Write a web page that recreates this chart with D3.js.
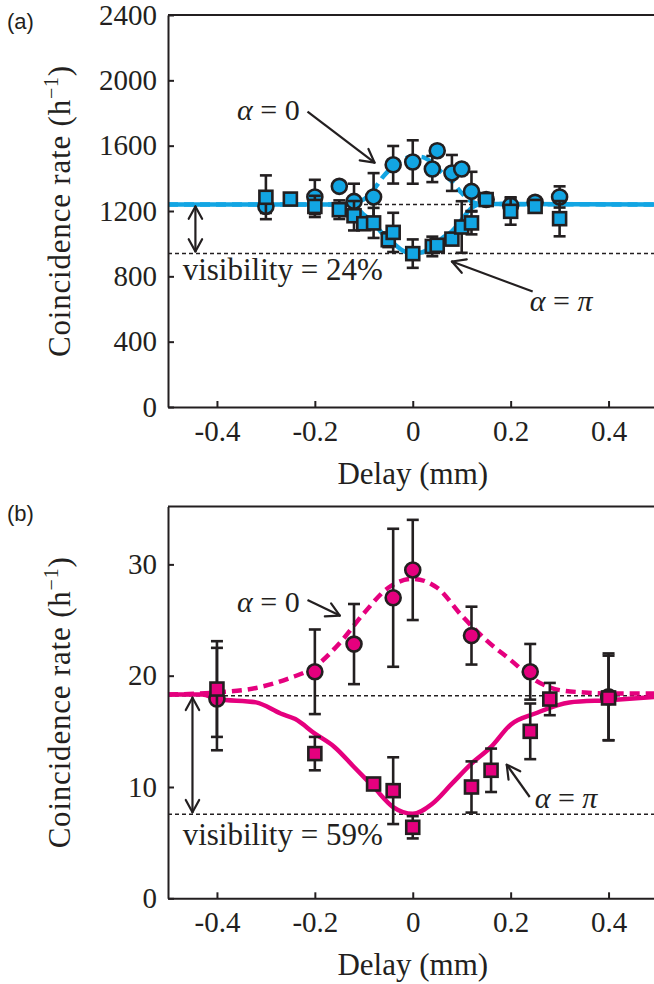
<!DOCTYPE html>
<html>
<head>
<meta charset="utf-8">
<script src="https://cdn.jsdelivr.net/npm/d3@7"></script>
<style>
body { margin: 0; background: #fff; }
</style>
</head>
<body>
<svg id="chart" width="654" height="984"></svg>
<script>
// x axis (shared)
var xTicks = [-0.4, -0.2, 0, 0.2, 0.4],
    xTickLabels = ['-0.4', '-0.2', '0', '0.2', '0.4'];

// panel (a): y ticks, data (delay mm, rate per hour, error)
var yTicksA = [0, 400, 800, 1200, 1600, 2000, 2400],
    yTickLabelsA = ['0', '400', '800', '1200', '1600', '2000', '2400'];
var delayA0 = [-0.3, -0.2, -0.15, -0.12, -0.08, -0.04, 0, 0.04, 0.05, 0.08, 0.1, 0.12, 0.15, 0.2, 0.25, 0.3],
    rateA0 = [1228, 1286, 1351, 1259, 1286, 1483, 1500, 1457, 1569, 1433, 1457, 1320, 1270, 1234, 1253, 1286],
    errA0 = [40, 105, 25, 108, 146, 115, 133, 80, 30, 110, 30, 120, 30, 50, 30, 65];
var delayApi = [-0.3, -0.25, -0.2, -0.15, -0.12, -0.1, -0.08, -0.05, -0.04, 0, 0.04, 0.05, 0.08, 0.1, 0.12, 0.15, 0.2, 0.25, 0.3],
    rateApi = [1284, 1273, 1228, 1208, 1171, 1122, 1127, 1024, 1069, 939, 983, 990, 1028, 1102, 1127, 1270, 1198, 1228, 1153],
    errApi = [134, 25, 65, 57, 90, 35, 92, 45, 120, 87, 60, 35, 35, 158, 70, 30, 82, 35, 108];
var fitDelayA = [-0.5, -0.14, -0.12, -0.1, -0.08, -0.06, -0.04, -0.02, 0, 0.02, 0.04, 0.06, 0.08, 0.1, 0.12, 0.14, 0.5],
    fitA0 = [1240, 1240, 1253, 1271, 1330, 1412, 1473, 1514, 1535, 1530, 1494, 1433, 1381, 1310, 1259, 1243, 1240],
    fitApi = [1240, 1240, 1232, 1177, 1127, 1055, 1004, 957, 939, 948, 980, 1033, 1075, 1147, 1218, 1243, 1240];
var refA = [1240, 940];

// panel (b)
var yTicksB = [0, 10, 20, 30],
    yTickLabelsB = ['0', '10', '20', '30'];
var delayB0 = [-0.4, -0.2, -0.12, -0.04, 0, 0.12, 0.24, 0.4],
    rateB0 = [17.9, 20.35, 22.84, 27.0, 29.5, 23.6, 20.35, 18.1],
    errB0 = [4.6, 3.8, 3.6, 6.2, 4.5, 2.6, 2.5, 3.9];
var delayBpi = [-0.4, -0.2, -0.08, -0.04, 0, 0.12, 0.16, 0.24, 0.28, 0.4],
    rateBpi = [18.8, 13.0, 10.27, 9.67, 6.38, 10.0, 11.5, 15.0, 17.9, 18.0],
    errBpi = [4.3, 1.5, 0.3, 3.0, 1.0, 2.3, 1.95, 2.5, 1.45, 3.8];
var fitDelayB0 = [-0.5, -0.4, -0.32, -0.25, -0.2, -0.15, -0.1, -0.05, 0, 0.05, 0.1, 0.15, 0.2, 0.25, 0.3, 0.35, 0.4, 0.5],
    fitB0 = [18.3, 18.5, 18.9, 19.8, 20.8, 22.9, 25.6, 27.9, 28.7, 27.9, 25.4, 23.2, 21.4, 19.6, 18.7, 18.5, 18.4, 18.4];
var fitDelayBpi = [-0.5, -0.43, -0.4, -0.32, -0.27, -0.24, -0.2, -0.16, -0.12, -0.08, -0.04, 0, 0.04, 0.08, 0.12, 0.16, 0.2, 0.25, 0.32, 0.4, 0.5],
    fitBpi = [18.3, 18.3, 17.9, 17.6, 16.6, 16.1, 14.8, 13.6, 11.8, 10.0, 8.2, 7.6, 8.5, 10.3, 12.1, 13.6, 15.6, 16.6, 17.6, 17.8, 18.1];
var refB = [18.2, 7.55];

var svg = d3.select('#chart'),
    INK = '#231f20',
    BLUE = '#12a5e3',
    PINK = '#e5007e',
    SERIF = '"Liberation Serif", "Times New Roman", serif',
    x = d3.scaleLinear().domain([-0.5, 0.5]).range([168, 657.5]);

function zip(xs, ys, es) {
    return xs.map(function (d, i) { return { x: d, y: ys[i], e: es ? es[i] : 0 }; });
}

function label(g, px, py, size) {
    return g.append('text')
        .attr('x', px).attr('y', py)
        .attr('fill', INK)
        .style('font-family', SERIF)
        .style('font-size', size + 'px');
}

function arrowHead(g, x1, y1, x2, y2, len) {
    var a = Math.atan2(y2 - y1, x2 - x1), s = 0.5;
    [a + Math.PI - s, a + Math.PI + s].forEach(function (b) {
        g.append('line')
            .attr('x1', x2).attr('y1', y2)
            .attr('x2', x2 + len * Math.cos(b)).attr('y2', y2 + len * Math.sin(b))
            .attr('stroke', INK).attr('stroke-width', 2.2)
            .attr('stroke-linecap', 'round');
    });
}

function arrow(g, x1, y1, x2, y2) {
    g.append('line')
        .attr('x1', x1).attr('y1', y1).attr('x2', x2).attr('y2', y2)
        .attr('stroke', INK).attr('stroke-width', 2.2);
    arrowHead(g, x1, y1, x2, y2, 15);
}

function alphaLabel(g, px, py, rhs, anchor) {
    var t = label(g, px, py, 30).attr('text-anchor', anchor);
    t.append('tspan').style('font-style', 'italic').text('\u03b1');
    t.append('tspan').text(' = ');
    t.append('tspan').style('font-style', rhs === '0' ? 'normal' : 'italic').text(rhs);
}

function drawPanel(p) {
    var y = d3.scaleLinear().domain([0, p.yMax]).range([p.bottom, p.top]),
        g = svg.append('g'),
        line = d3.line()
            .x(function (d) { return x(d.x); })
            .y(function (d) { return y(d.y); })
            .curve(d3.curveMonotoneX);

    // reference levels
    p.ref.forEach(function (r) {
        g.append('line')
            .attr('x1', x(-0.5)).attr('x2', x(0.5))
            .attr('y1', y(r)).attr('y2', y(r))
            .attr('stroke', INK).attr('stroke-width', 1.5)
            .attr('stroke-dasharray', '4,3');
    });

    // fits
    g.append('path').datum(zip(p.fitPiX, p.fitPi))
        .attr('d', line).attr('fill', 'none')
        .attr('stroke', p.color).attr('stroke-width', 4.5);
    g.append('path').datum(zip(p.fit0X, p.fit0))
        .attr('d', line).attr('fill', 'none')
        .attr('stroke', p.color).attr('stroke-width', 4.5)
        .attr('stroke-dasharray', '10,6');

    function errorBars(data) {
        var eb = g.append('g').attr('stroke', INK).attr('stroke-width', 2.6);
        data.forEach(function (d) {
            var cx = x(d.x), y1 = y(d.y - d.e), y2 = y(d.y + d.e);
            eb.append('line').attr('x1', cx).attr('x2', cx).attr('y1', y1).attr('y2', y2);
            eb.append('line').attr('x1', cx - 6).attr('x2', cx + 6).attr('y1', y1).attr('y2', y1);
            eb.append('line').attr('x1', cx - 6).attr('x2', cx + 6).attr('y1', y2).attr('y2', y2);
        });
    }

    var circ = zip(p.x0, p.y0, p.e0),
        sq = zip(p.xPi, p.yPi, p.ePi);

    errorBars(circ);
    g.selectAll('circle.m').data(circ).enter().append('circle')
        .attr('cx', function (d) { return x(d.x); })
        .attr('cy', function (d) { return y(d.y); })
        .attr('r', 7.5)
        .attr('fill', p.color).attr('stroke', INK).attr('stroke-width', 2.6);
    errorBars(sq);
    g.selectAll('rect.m').data(sq).enter().append('rect')
        .attr('x', function (d) { return x(d.x) - 6.5; })
        .attr('y', function (d) { return y(d.y) - 6.5; })
        .attr('width', 13).attr('height', 13)
        .attr('fill', p.color).attr('stroke', INK).attr('stroke-width', 2.6);

    // frame and axes
    var yAxis = g.append('g')
        .attr('transform', 'translate(' + x(-0.5) + ',0)')
        .call(d3.axisLeft(y).tickValues(p.yTicks).tickSize(-6).tickSizeOuter(0).tickPadding(11)
            .tickFormat(function (d, i) { return p.yTickLabels[i]; }));
    var xAxis = g.append('g')
        .attr('transform', 'translate(0,' + p.bottom + ')')
        .call(d3.axisBottom(x).tickValues(xTicks).tickSize(-6).tickSizeOuter(0).tickPadding(13)
            .tickFormat(function (d, i) { return xTickLabels[i]; }));
    [yAxis, xAxis].forEach(function (a) {
        a.attr('font-family', null).attr('font-size', null);
        a.selectAll('path, line').attr('stroke', INK).attr('stroke-width', 2);
        a.selectAll('text').attr('fill', INK)
            .style('font-family', SERIF).style('font-size', '29px');
    });
    g.append('line')
        .attr('x1', x(-0.5)).attr('x2', x(0.5))
        .attr('y1', p.top).attr('y2', p.top)
        .attr('stroke', INK).attr('stroke-width', 2);

    label(g, x(0), p.bottom + 77, 31)
        .attr('text-anchor', 'middle')
        .text('Delay (mm)');

    var yl = label(g, 0, 0, 31)
        .attr('transform', 'translate(70,' + ((p.top + p.bottom) / 2) + ') rotate(-90)')
        .attr('text-anchor', 'middle')
        .style('letter-spacing', '0.8px');
    yl.append('tspan').text('Coincidence rate (h');
    yl.append('tspan').attr('dy', -12).style('font-size', '20px').text('\u22121');
    yl.append('tspan').attr('dy', 12).text(')');

    g.append('text')
        .attr('x', 7).attr('y', p.top + 14)
        .attr('fill', INK)
        .style('font-family', '"Liberation Sans", Arial, sans-serif')
        .style('font-size', '22px')
        .text(p.letter);

    // annotations
    var n = p.notes;
    alphaLabel(g, x(n.zeroText[0]), y(n.zeroText[1]), '0', 'end');
    arrow(g, x(n.zeroArrow[0]), y(n.zeroArrow[1]), x(n.zeroArrow[2]), y(n.zeroArrow[3]));
    alphaLabel(g, x(n.piText[0]), y(n.piText[1]), '\u03c0', 'start');
    arrow(g, x(n.piArrow[0]), y(n.piArrow[1]), x(n.piArrow[2]), y(n.piArrow[3]));

    var ax = x(n.vis[0]);
    g.append('line')
        .attr('x1', ax).attr('x2', ax)
        .attr('y1', y(p.ref[0]) + 2).attr('y2', y(p.ref[1]) - 2)
        .attr('stroke', INK).attr('stroke-width', 2.2);
    arrowHead(g, ax, y(p.ref[1]), ax, y(p.ref[0]) + 2, 14);
    arrowHead(g, ax, y(p.ref[0]), ax, y(p.ref[1]) - 2, 14);

    label(g, x(n.visText[0]), y(n.visText[1]), 31).text(n.visLabel);
}

drawPanel({
    letter: '(a)', top: 15, bottom: 407, yMax: 2400, yTicks: yTicksA, yTickLabels: yTickLabelsA, color: BLUE,
    x0: delayA0, y0: rateA0, e0: errA0, xPi: delayApi, yPi: rateApi, ePi: errApi,
    fit0X: fitDelayA, fit0: fitA0, fitPiX: fitDelayA, fitPi: fitApi, ref: refA,
    notes: {
        zeroText: [-0.231, 1759], zeroArrow: [-0.215, 1808, -0.078, 1496],
        piText: [0.239, 590], piArrow: [0.245, 707, 0.08, 891],
        vis: [-0.444], visText: [-0.47, 778], visLabel: 'visibility = 24%'
    }
});

drawPanel({
    letter: '(b)', top: 506.5, bottom: 898.3, yMax: 35.2, yTicks: yTicksB, yTickLabels: yTickLabelsB, color: PINK,
    x0: delayB0, y0: rateB0, e0: errB0, xPi: delayBpi, yPi: rateBpi, ePi: errBpi,
    fit0X: fitDelayB0, fit0: fitB0, fitPiX: fitDelayBpi, fitPi: fitBpi, ref: refB,
    notes: {
        zeroText: [-0.231, 25.7], zeroArrow: [-0.215, 26.8, -0.149, 25.4],
        piText: [0.249, 8.1], piArrow: [0.239, 9.1, 0.192, 12.0],
        vis: [-0.45], visText: [-0.47, 4.8], visLabel: 'visibility = 59%'
    }
});
</script>
</body>
</html>
